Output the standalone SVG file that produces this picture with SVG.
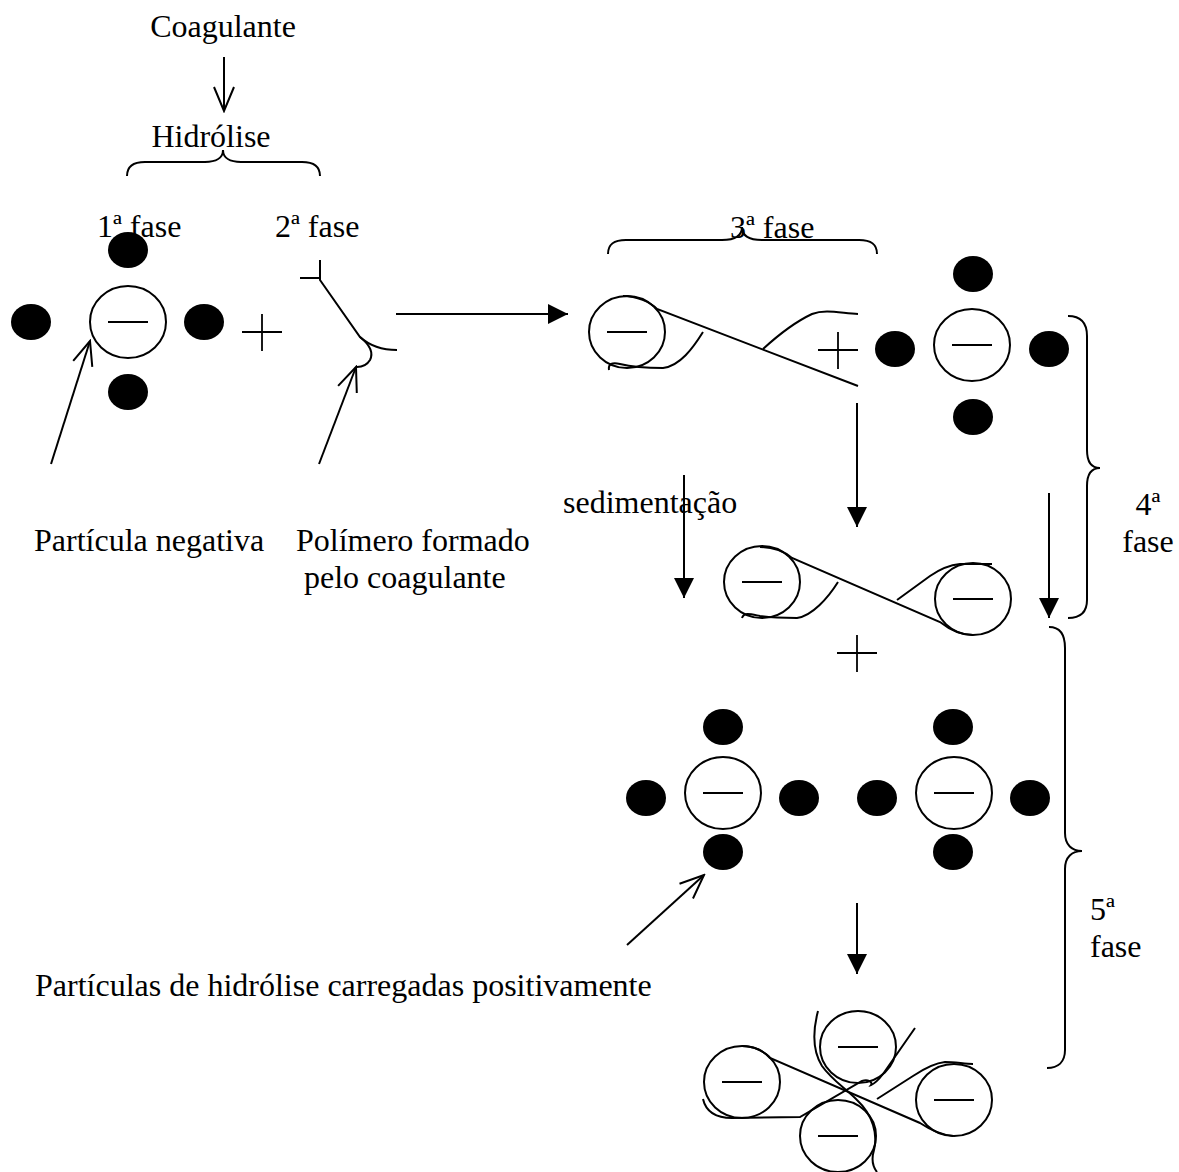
<svg xmlns="http://www.w3.org/2000/svg" width="1179" height="1172" viewBox="0 0 1179 1172">
  <style>
    text { font-family: "Liberation Serif", "Times New Roman", "DejaVu Serif", serif; font-size: 32px; fill: #000; }
    .ring { fill: #fff; stroke: #000; stroke-width: 2; }
    .dot { fill: #000; }
    .ln { fill: none; stroke: #000; stroke-width: 2; }
    .thin { fill: none; stroke: #000; stroke-width: 1.8; }
  </style>
  <defs>
    <marker id="solid" viewBox="0 0 20 20" markerUnits="userSpaceOnUse" markerWidth="20" markerHeight="20" refX="20" refY="10" orient="auto">
      <path d="M0,0 L20,10 L0,20 Z" fill="#000"/>
    </marker>
    <marker id="open" viewBox="-2 -2 28 24" markerUnits="userSpaceOnUse" markerWidth="28" markerHeight="24" refX="24" refY="10" orient="auto">
      <path d="M0,0 L24,10 L0,20" fill="none" stroke="#000" stroke-width="2"/>
    </marker>
    <!-- negative particle: ring with a minus sign -->
    <g id="neg">
      <ellipse class="ring" cx="0" cy="0" rx="38" ry="36"/>
      <line class="ln" x1="-20" y1="0" x2="20" y2="0"/>
    </g>
    <!-- positive hydrolysis particle -->
    <ellipse id="pos" class="dot" cx="0" cy="0" rx="20" ry="18"/>
    <g id="plus">
      <line class="thin" x1="-20" y1="0" x2="20" y2="0"/>
      <line class="thin" x1="0" y1="-18" x2="0" y2="19"/>
    </g>
  </defs>

  <rect width="1179" height="1172" fill="#fff"/>

  <!-- labels -->
  <g id="labels">
    <text x="223" y="37" text-anchor="middle">Coagulante</text>
    <text x="211" y="147" text-anchor="middle">Hidrólise</text>
    <text x="97" y="237">1ª fase</text>
    <text x="275" y="237">2ª fase</text>
    <text x="730" y="238">3ª fase</text>
    <text x="563" y="513">sedimentação</text>
    <text x="1148" y="515" text-anchor="middle">4ª</text>
    <text x="1148" y="552" text-anchor="middle">fase</text>
    <text x="1090" y="920">5ª</text>
    <text x="1090" y="957">fase</text>
    <text x="34" y="551">Partícula negativa</text>
    <text x="296" y="551">Polímero formado</text>
    <text x="304" y="588">pelo coagulante</text>
    <text x="35" y="996">Partículas de hidrólise carregadas positivamente</text>
  </g>

  <!-- braces grouping the phases -->
  <g id="braces">
    <path class="ln" d="M127,176 C127,166 133,162 145,162 L205,162 C216,162 223,158 223,150 C223,158 230,162 241,162 L302,162 C314,162 320,166 320,176"/>
    <path class="ln" d="M608,254 C608,244 614,240 626,240 L722,240 C734,240 742,236 742,227 C742,236 750,240 762,240 L859,240 C871,240 877,244 877,254"/>
    <path class="ln" d="M1068,316 C1080,316 1087,322 1087,336 L1087,450 C1087,462 1092,468 1100,468 C1092,468 1087,474 1087,486 L1087,600 C1087,612 1080,618 1068,618"/>
    <path class="ln" d="M1049,627 C1060,627 1065,634 1065,648 L1065,833 C1065,845 1072,851 1082,851 C1072,851 1065,857 1065,869 L1065,1050 C1065,1062 1058,1068 1047,1068"/>
  </g>

  <!-- phase 1: negative particle with positive charges -->
  <g id="particle-1">
    <use href="#pos" x="128" y="250"/>
    <use href="#pos" x="31" y="322"/>
    <use href="#pos" x="204" y="322"/>
    <use href="#pos" x="128" y="392"/>
    <use href="#neg" x="128" y="322"/>
  </g>
  <g id="plus-1"><use href="#plus" x="262" y="332"/></g>

  <!-- phase 2: polymer formed by the coagulant -->
  <g id="polymer-1">
    <path class="ln" d="M300,278 L320,278 M320,260 L320,280 L360,337 C370,346 382,350 397,350"/>
    <path class="ln" d="M360,337 C370,345 374,352 370,360 C367,365 362,367 357,367"/>
  </g>

  <!-- phase 3: polymer attached to a particle -->
  <g id="bridge-1">
    <use href="#neg" x="627" y="332"/>
    <path class="ln" d="M623,296 C637,296 650,302 657,309 L858,386"/>
    <path class="ln" d="M763,349 C775,338 795,322 812,314 C825,309 840,313 858,314"/>
    <path class="ln" d="M609,370 C608,364 612,362 620,364 C632,367 650,368 663,368 C680,366 693,348 703,332"/>
  </g>
  <g id="plus-2"><use href="#plus" x="838" y="350"/></g>

  <g id="particle-2">
    <use href="#pos" x="973" y="274"/>
    <use href="#pos" x="895" y="349"/>
    <use href="#pos" x="1049" y="349"/>
    <use href="#pos" x="973" y="417"/>
    <use href="#neg" x="972" y="345"/>
  </g>

  <!-- phase 4: two particles bridged by the polymer -->
  <g id="bridge-2">
    <use href="#neg" x="762" y="582"/>
    <use href="#neg" x="973" y="599"/>
    <path class="ln" d="M760,547 C775,547 786,553 792,558 L940,622 C950,630 962,635 973,635"/>
    <path class="ln" d="M897,600 L930,576 C940,569 950,565 960,564 L992,564"/>
    <path class="ln" d="M742,618 C744,612 750,614 760,616 C772,618 785,618 797,618 C812,616 828,598 838,582"/>
  </g>
  <g id="plus-3"><use href="#plus" x="857" y="653"/></g>

  <g id="particle-3">
    <use href="#pos" x="723" y="727"/>
    <use href="#pos" x="646" y="798"/>
    <use href="#pos" x="799" y="798"/>
    <use href="#pos" x="723" y="852"/>
    <use href="#neg" x="723" y="793"/>
  </g>
  <g id="particle-4">
    <use href="#pos" x="953" y="727"/>
    <use href="#pos" x="877" y="798"/>
    <use href="#pos" x="1030" y="798"/>
    <use href="#pos" x="953" y="852"/>
    <use href="#neg" x="954" y="793"/>
  </g>

  <!-- phase 5: floc of several particles -->
  <g id="floc">
    <use href="#neg" x="858" y="1047"/>
    <use href="#neg" x="742" y="1082"/>
    <use href="#neg" x="954" y="1100"/>
    <use href="#neg" x="838" y="1136"/>
    <path class="ln" d="M742,1046 C755,1046 765,1052 770,1058 L920,1123 C932,1131 943,1135 953,1136"/>
    <path class="ln" d="M877,1099 L913,1076 C925,1068 935,1063 945,1062 C955,1062 965,1064 973,1064"/>
    <path class="ln" d="M703,1099 C706,1112 716,1118 732,1118 L800,1117 L862,1081 C868,1079 873,1082 871,1085 C876,1083 880,1078 883,1074 L915,1028"/>
    <path class="ln" d="M818,1011 C813,1030 812,1050 822,1066 C832,1080 845,1088 857,1100 C873,1115 878,1135 874,1150 C871,1160 873,1167 877,1172"/>
  </g>

  <!-- connectors -->
  <g id="connectors">
    <path class="ln" d="M224,57 L224,111" marker-end="url(#open)"/>
    <path class="ln" d="M51,464 L90,341" marker-end="url(#open)"/>
    <path class="ln" d="M319,464 L356,367" marker-end="url(#open)"/>
    <path class="ln" d="M627,945 L704,875" marker-end="url(#open)"/>
    <path class="ln" d="M396,314 L568,314" marker-end="url(#solid)"/>
    <path class="ln" d="M857,403 L857,527" marker-end="url(#solid)"/>
    <path class="ln" d="M684,475 L684,598" marker-end="url(#solid)"/>
    <path class="ln" d="M1049,493 L1049,618" marker-end="url(#solid)"/>
    <path class="ln" d="M857,903 L857,974" marker-end="url(#solid)"/>
  </g>
</svg>
